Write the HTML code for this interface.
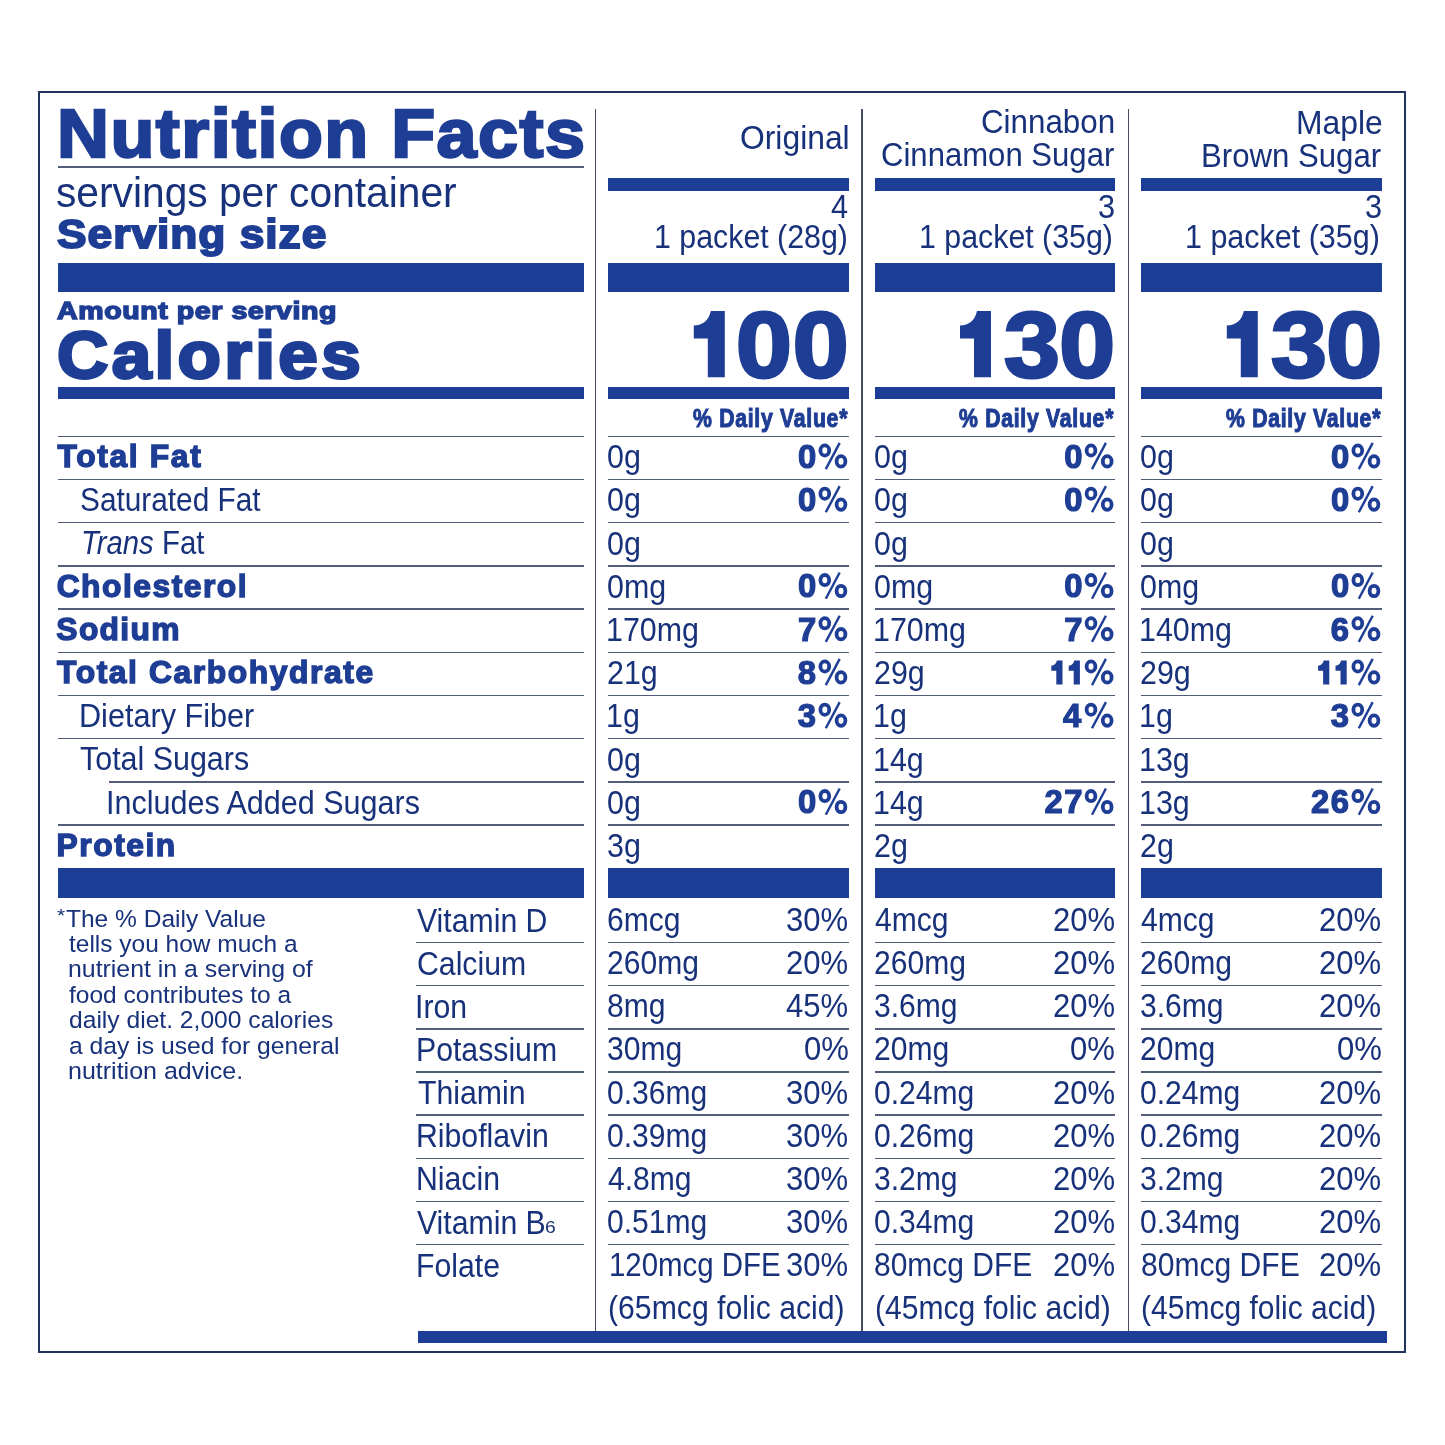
<!DOCTYPE html>
<html><head><meta charset="utf-8"><style>
html,body{margin:0;padding:0;background:#fff;width:1445px;height:1445px;overflow:hidden}
#w{position:relative;width:1445px;height:1445px;will-change:transform}
#w div,#w span,#w svg{position:absolute}
#w span{font-family:"Liberation Sans",sans-serif;line-height:1;white-space:pre;transform-origin:0 0}
</style></head><body><div id="w">
<div style="left:38px;top:91px;width:1368px;height:1262px;border:2px solid #22345e;box-sizing:border-box"></div>
<div style="left:594.90px;top:109.40px;width:1.40px;height:1222.10px;background:#474d62"></div>
<div style="left:861.30px;top:109.40px;width:1.40px;height:1222.10px;background:#474d62"></div>
<div style="left:1127.90px;top:109.40px;width:1.40px;height:1222.10px;background:#474d62"></div>
<div style="left:58.00px;top:166.05px;width:526.00px;height:1.50px;background:#525d7a"></div>
<div style="left:58.00px;top:262.80px;width:526.00px;height:29.00px;background:#1d3e96"></div>
<div style="left:58.00px;top:386.90px;width:526.00px;height:12.50px;background:#1d3e96"></div>
<div style="left:58.00px;top:435.55px;width:526.00px;height:1.50px;background:#525d7a"></div>
<div style="left:58.00px;top:478.75px;width:526.00px;height:1.50px;background:#525d7a"></div>
<div style="left:58.00px;top:521.95px;width:526.00px;height:1.50px;background:#525d7a"></div>
<div style="left:58.00px;top:565.15px;width:526.00px;height:1.50px;background:#525d7a"></div>
<div style="left:58.00px;top:608.35px;width:526.00px;height:1.50px;background:#525d7a"></div>
<div style="left:58.00px;top:651.55px;width:526.00px;height:1.50px;background:#525d7a"></div>
<div style="left:58.00px;top:694.75px;width:526.00px;height:1.50px;background:#525d7a"></div>
<div style="left:58.00px;top:737.95px;width:526.00px;height:1.50px;background:#525d7a"></div>
<div style="left:109.20px;top:781.15px;width:474.80px;height:1.50px;background:#525d7a"></div>
<div style="left:58.00px;top:824.35px;width:526.00px;height:1.50px;background:#525d7a"></div>
<div style="left:58.00px;top:868.40px;width:526.00px;height:29.30px;background:#1d3e96"></div>
<div style="left:416.10px;top:941.75px;width:167.90px;height:1.50px;background:#525d7a"></div>
<div style="left:416.10px;top:984.92px;width:167.90px;height:1.50px;background:#525d7a"></div>
<div style="left:416.10px;top:1028.09px;width:167.90px;height:1.50px;background:#525d7a"></div>
<div style="left:416.10px;top:1071.26px;width:167.90px;height:1.50px;background:#525d7a"></div>
<div style="left:416.10px;top:1114.43px;width:167.90px;height:1.50px;background:#525d7a"></div>
<div style="left:416.10px;top:1157.60px;width:167.90px;height:1.50px;background:#525d7a"></div>
<div style="left:416.10px;top:1200.77px;width:167.90px;height:1.50px;background:#525d7a"></div>
<div style="left:416.10px;top:1243.94px;width:167.90px;height:1.50px;background:#525d7a"></div>
<div style="left:418.10px;top:1331.40px;width:968.60px;height:12.10px;background:#1d3e96"></div>
<div style="left:608.20px;top:178.20px;width:240.60px;height:12.40px;background:#1d3e96"></div>
<div style="left:608.20px;top:262.80px;width:240.60px;height:29.00px;background:#1d3e96"></div>
<div style="left:608.20px;top:386.90px;width:240.60px;height:12.50px;background:#1d3e96"></div>
<div style="left:608.20px;top:435.55px;width:240.60px;height:1.50px;background:#525d7a"></div>
<div style="left:608.20px;top:478.75px;width:240.60px;height:1.50px;background:#525d7a"></div>
<div style="left:608.20px;top:521.95px;width:240.60px;height:1.50px;background:#525d7a"></div>
<div style="left:608.20px;top:565.15px;width:240.60px;height:1.50px;background:#525d7a"></div>
<div style="left:608.20px;top:608.35px;width:240.60px;height:1.50px;background:#525d7a"></div>
<div style="left:608.20px;top:651.55px;width:240.60px;height:1.50px;background:#525d7a"></div>
<div style="left:608.20px;top:694.75px;width:240.60px;height:1.50px;background:#525d7a"></div>
<div style="left:608.20px;top:737.95px;width:240.60px;height:1.50px;background:#525d7a"></div>
<div style="left:608.20px;top:781.15px;width:240.60px;height:1.50px;background:#525d7a"></div>
<div style="left:608.20px;top:824.35px;width:240.60px;height:1.50px;background:#525d7a"></div>
<div style="left:608.20px;top:868.40px;width:240.60px;height:29.30px;background:#1d3e96"></div>
<div style="left:608.20px;top:941.75px;width:240.60px;height:1.50px;background:#525d7a"></div>
<div style="left:608.20px;top:984.92px;width:240.60px;height:1.50px;background:#525d7a"></div>
<div style="left:608.20px;top:1028.09px;width:240.60px;height:1.50px;background:#525d7a"></div>
<div style="left:608.20px;top:1071.26px;width:240.60px;height:1.50px;background:#525d7a"></div>
<div style="left:608.20px;top:1114.43px;width:240.60px;height:1.50px;background:#525d7a"></div>
<div style="left:608.20px;top:1157.60px;width:240.60px;height:1.50px;background:#525d7a"></div>
<div style="left:608.20px;top:1200.77px;width:240.60px;height:1.50px;background:#525d7a"></div>
<div style="left:608.20px;top:1243.94px;width:240.60px;height:1.50px;background:#525d7a"></div>
<div style="left:874.80px;top:178.20px;width:240.20px;height:12.40px;background:#1d3e96"></div>
<div style="left:874.80px;top:262.80px;width:240.20px;height:29.00px;background:#1d3e96"></div>
<div style="left:874.80px;top:386.90px;width:240.20px;height:12.50px;background:#1d3e96"></div>
<div style="left:874.80px;top:435.55px;width:240.20px;height:1.50px;background:#525d7a"></div>
<div style="left:874.80px;top:478.75px;width:240.20px;height:1.50px;background:#525d7a"></div>
<div style="left:874.80px;top:521.95px;width:240.20px;height:1.50px;background:#525d7a"></div>
<div style="left:874.80px;top:565.15px;width:240.20px;height:1.50px;background:#525d7a"></div>
<div style="left:874.80px;top:608.35px;width:240.20px;height:1.50px;background:#525d7a"></div>
<div style="left:874.80px;top:651.55px;width:240.20px;height:1.50px;background:#525d7a"></div>
<div style="left:874.80px;top:694.75px;width:240.20px;height:1.50px;background:#525d7a"></div>
<div style="left:874.80px;top:737.95px;width:240.20px;height:1.50px;background:#525d7a"></div>
<div style="left:874.80px;top:781.15px;width:240.20px;height:1.50px;background:#525d7a"></div>
<div style="left:874.80px;top:824.35px;width:240.20px;height:1.50px;background:#525d7a"></div>
<div style="left:874.80px;top:868.40px;width:240.20px;height:29.30px;background:#1d3e96"></div>
<div style="left:874.80px;top:941.75px;width:240.20px;height:1.50px;background:#525d7a"></div>
<div style="left:874.80px;top:984.92px;width:240.20px;height:1.50px;background:#525d7a"></div>
<div style="left:874.80px;top:1028.09px;width:240.20px;height:1.50px;background:#525d7a"></div>
<div style="left:874.80px;top:1071.26px;width:240.20px;height:1.50px;background:#525d7a"></div>
<div style="left:874.80px;top:1114.43px;width:240.20px;height:1.50px;background:#525d7a"></div>
<div style="left:874.80px;top:1157.60px;width:240.20px;height:1.50px;background:#525d7a"></div>
<div style="left:874.80px;top:1200.77px;width:240.20px;height:1.50px;background:#525d7a"></div>
<div style="left:874.80px;top:1243.94px;width:240.20px;height:1.50px;background:#525d7a"></div>
<div style="left:1141.00px;top:178.20px;width:240.80px;height:12.40px;background:#1d3e96"></div>
<div style="left:1141.00px;top:262.80px;width:240.80px;height:29.00px;background:#1d3e96"></div>
<div style="left:1141.00px;top:386.90px;width:240.80px;height:12.50px;background:#1d3e96"></div>
<div style="left:1141.00px;top:435.55px;width:240.80px;height:1.50px;background:#525d7a"></div>
<div style="left:1141.00px;top:478.75px;width:240.80px;height:1.50px;background:#525d7a"></div>
<div style="left:1141.00px;top:521.95px;width:240.80px;height:1.50px;background:#525d7a"></div>
<div style="left:1141.00px;top:565.15px;width:240.80px;height:1.50px;background:#525d7a"></div>
<div style="left:1141.00px;top:608.35px;width:240.80px;height:1.50px;background:#525d7a"></div>
<div style="left:1141.00px;top:651.55px;width:240.80px;height:1.50px;background:#525d7a"></div>
<div style="left:1141.00px;top:694.75px;width:240.80px;height:1.50px;background:#525d7a"></div>
<div style="left:1141.00px;top:737.95px;width:240.80px;height:1.50px;background:#525d7a"></div>
<div style="left:1141.00px;top:781.15px;width:240.80px;height:1.50px;background:#525d7a"></div>
<div style="left:1141.00px;top:824.35px;width:240.80px;height:1.50px;background:#525d7a"></div>
<div style="left:1141.00px;top:868.40px;width:240.80px;height:29.30px;background:#1d3e96"></div>
<div style="left:1141.00px;top:941.75px;width:240.80px;height:1.50px;background:#525d7a"></div>
<div style="left:1141.00px;top:984.92px;width:240.80px;height:1.50px;background:#525d7a"></div>
<div style="left:1141.00px;top:1028.09px;width:240.80px;height:1.50px;background:#525d7a"></div>
<div style="left:1141.00px;top:1071.26px;width:240.80px;height:1.50px;background:#525d7a"></div>
<div style="left:1141.00px;top:1114.43px;width:240.80px;height:1.50px;background:#525d7a"></div>
<div style="left:1141.00px;top:1157.60px;width:240.80px;height:1.50px;background:#525d7a"></div>
<div style="left:1141.00px;top:1200.77px;width:240.80px;height:1.50px;background:#525d7a"></div>
<div style="left:1141.00px;top:1243.94px;width:240.80px;height:1.50px;background:#525d7a"></div>
<span style="left:56.98px;top:99.70px;font-size:68.50px;font-weight:bold;font-style:normal;color:#1e3d94;-webkit-text-stroke:2.40px #1e3d94;letter-spacing:1.388px;transform:scaleX(1.0500);">Nutrition Facts</span>
<span style="left:56.38px;top:171.74px;font-size:42.00px;font-weight:normal;font-style:normal;color:#17317a;transform:scaleX(0.9696);">servings per container</span>
<span style="left:57.30px;top:213.99px;font-size:41.00px;font-weight:bold;font-style:normal;color:#1e3d94;-webkit-text-stroke:1.90px #1e3d94;letter-spacing:0.922px;transform:scaleX(1.0800);">Serving size</span>
<span style="left:57.24px;top:300.09px;font-size:23.40px;font-weight:bold;font-style:normal;color:#1e3d94;-webkit-text-stroke:1.40px #1e3d94;letter-spacing:0.474px;transform:scaleX(1.2200);">Amount per serving</span>
<span style="left:56.55px;top:321.37px;font-size:67.00px;font-weight:bold;font-style:normal;color:#1e3d94;-webkit-text-stroke:3.00px #1e3d94;letter-spacing:3.157px;transform:scaleX(1.0600);">Calories</span>
<span style="left:57.58px;top:441.37px;font-size:31.80px;font-weight:bold;font-style:normal;color:#1e3d94;-webkit-text-stroke:1.40px #1e3d94;letter-spacing:1.634px;">Total Fat</span>
<span style="left:80.16px;top:483.22px;font-size:33.40px;font-weight:normal;font-style:normal;color:#17317a;transform:scaleX(0.8925);">Saturated Fat</span>
<span style="left:80.57px;top:526.42px;font-size:33.40px;font-weight:normal;font-style:italic;color:#17317a;transform:scaleX(0.8755);">Trans</span>
<span style="left:162.25px;top:526.42px;font-size:33.40px;font-weight:normal;font-style:normal;color:#17317a;transform:scaleX(0.8794);">Fat</span>
<span style="left:56.63px;top:570.97px;font-size:31.80px;font-weight:bold;font-style:normal;color:#1e3d94;-webkit-text-stroke:1.40px #1e3d94;letter-spacing:1.504px;">Cholesterol</span>
<span style="left:56.35px;top:614.17px;font-size:31.80px;font-weight:bold;font-style:normal;color:#1e3d94;-webkit-text-stroke:1.40px #1e3d94;letter-spacing:1.323px;">Sodium</span>
<span style="left:56.98px;top:657.37px;font-size:31.80px;font-weight:bold;font-style:normal;color:#1e3d94;-webkit-text-stroke:1.40px #1e3d94;letter-spacing:1.595px;">Total Carbohydrate</span>
<span style="left:79.15px;top:699.22px;font-size:33.40px;font-weight:normal;font-style:normal;color:#17317a;transform:scaleX(0.9166);">Dietary Fiber</span>
<span style="left:80.39px;top:742.42px;font-size:33.40px;font-weight:normal;font-style:normal;color:#17317a;transform:scaleX(0.9110);">Total Sugars</span>
<span style="left:106.45px;top:785.62px;font-size:33.40px;font-weight:normal;font-style:normal;color:#17317a;transform:scaleX(0.9141);">Includes Added Sugars</span>
<span style="left:56.53px;top:830.17px;font-size:31.80px;font-weight:bold;font-style:normal;color:#1e3d94;-webkit-text-stroke:1.40px #1e3d94;letter-spacing:1.537px;">Protein</span>
<span style="left:65.71px;top:906.63px;font-size:24.30px;font-weight:normal;font-style:normal;color:#17317a;transform:scaleX(1.0093);">The % Daily Value</span>
<span style="left:69.33px;top:932.03px;font-size:24.30px;font-weight:normal;font-style:normal;color:#17317a;transform:scaleX(1.0072);">tells you how much a</span>
<span style="left:68.08px;top:957.43px;font-size:24.30px;font-weight:normal;font-style:normal;color:#17317a;transform:scaleX(1.0234);">nutrient in a serving of</span>
<span style="left:69.33px;top:982.83px;font-size:24.30px;font-weight:normal;font-style:normal;color:#17317a;transform:scaleX(1.0087);">food contributes to a</span>
<span style="left:68.71px;top:1008.23px;font-size:24.30px;font-weight:normal;font-style:normal;color:#17317a;transform:scaleX(1.0135);">daily diet. 2,000 calories</span>
<span style="left:68.71px;top:1033.63px;font-size:24.30px;font-weight:normal;font-style:normal;color:#17317a;transform:scaleX(1.0162);">a day is used for general</span>
<span style="left:68.07px;top:1059.03px;font-size:24.30px;font-weight:normal;font-style:normal;color:#17317a;transform:scaleX(1.0293);">nutrition advice.</span>
<span style="left:56.69px;top:906.41px;font-size:19.00px;font-weight:normal;font-style:normal;color:#17317a;transform:scaleX(1.0965);">*</span>
<span style="left:417.45px;top:903.52px;font-size:33.40px;font-weight:normal;font-style:normal;color:#17317a;transform:scaleX(0.9050);">Vitamin D</span>
<span style="left:416.59px;top:946.52px;font-size:33.40px;font-weight:normal;font-style:normal;color:#17317a;transform:scaleX(0.9050);">Calcium</span>
<span style="left:415.38px;top:989.69px;font-size:33.40px;font-weight:normal;font-style:normal;color:#17317a;transform:scaleX(0.9050);">Iron</span>
<span style="left:415.68px;top:1032.86px;font-size:33.40px;font-weight:normal;font-style:normal;color:#17317a;transform:scaleX(0.9050);">Potassium</span>
<span style="left:417.50px;top:1076.03px;font-size:33.40px;font-weight:normal;font-style:normal;color:#17317a;transform:scaleX(0.9050);">Thiamin</span>
<span style="left:415.68px;top:1119.20px;font-size:33.40px;font-weight:normal;font-style:normal;color:#17317a;transform:scaleX(0.9050);">Riboflavin</span>
<span style="left:415.68px;top:1162.37px;font-size:33.40px;font-weight:normal;font-style:normal;color:#17317a;transform:scaleX(0.9050);">Niacin</span>
<span style="left:417.45px;top:1205.54px;font-size:33.40px;font-weight:normal;font-style:normal;color:#17317a;transform:scaleX(0.9050);">Vitamin B</span>
<span style="left:415.68px;top:1248.71px;font-size:33.40px;font-weight:normal;font-style:normal;color:#17317a;transform:scaleX(0.9050);">Folate</span>
<span style="left:545.23px;top:1218.93px;font-size:17.00px;font-weight:normal;font-style:normal;color:#17317a;transform:scaleX(1.1385);">6</span>
<span style="left:739.77px;top:120.62px;font-size:33.40px;font-weight:normal;font-style:normal;color:#17317a;transform:scaleX(0.9534);">Original</span>
<span style="left:831.29px;top:190.36px;font-size:33.00px;font-weight:normal;font-style:normal;color:#17317a;transform:scaleX(0.9300);">4</span>
<span style="left:653.52px;top:220.12px;font-size:33.40px;font-weight:normal;font-style:normal;color:#17317a;transform:scaleX(0.9085);">1 packet (28g)</span>
<span style="left:736.40px;top:299.46px;font-size:93.00px;font-weight:bold;font-style:normal;color:#1e3d94;-webkit-text-stroke:3.00px #1e3d94;letter-spacing:0.747px;transform:scaleX(1.0800);">00</span>
<span style="left:692.61px;top:405.16px;font-size:26.50px;font-weight:bold;font-style:normal;color:#1e3d94;-webkit-text-stroke:1.10px #1e3d94;letter-spacing:0.908px;transform:scaleX(0.8000);">% Daily Value*</span>
<span style="left:607.38px;top:440.22px;font-size:33.40px;font-weight:normal;font-style:normal;color:#17317a;transform:scaleX(0.9100);">0g</span>
<span style="left:798.01px;top:440.73px;font-size:32.80px;font-weight:bold;font-style:normal;color:#1e3d94;-webkit-text-stroke:1.20px #1e3d94;">0</span>
<span style="left:607.38px;top:483.42px;font-size:33.40px;font-weight:normal;font-style:normal;color:#17317a;transform:scaleX(0.9100);">0g</span>
<span style="left:798.01px;top:483.93px;font-size:32.80px;font-weight:bold;font-style:normal;color:#1e3d94;-webkit-text-stroke:1.20px #1e3d94;">0</span>
<span style="left:607.38px;top:526.62px;font-size:33.40px;font-weight:normal;font-style:normal;color:#17317a;transform:scaleX(0.9100);">0g</span>
<span style="left:607.38px;top:569.82px;font-size:33.40px;font-weight:normal;font-style:normal;color:#17317a;transform:scaleX(0.9100);">0mg</span>
<span style="left:798.01px;top:570.33px;font-size:32.80px;font-weight:bold;font-style:normal;color:#1e3d94;-webkit-text-stroke:1.20px #1e3d94;">0</span>
<span style="left:606.32px;top:613.02px;font-size:33.40px;font-weight:normal;font-style:normal;color:#17317a;transform:scaleX(0.9100);">170mg</span>
<span style="left:798.01px;top:613.53px;font-size:32.80px;font-weight:bold;font-style:normal;color:#1e3d94;-webkit-text-stroke:1.20px #1e3d94;">7</span>
<span style="left:607.08px;top:656.22px;font-size:33.40px;font-weight:normal;font-style:normal;color:#17317a;transform:scaleX(0.9100);">21g</span>
<span style="left:797.68px;top:656.73px;font-size:32.80px;font-weight:bold;font-style:normal;color:#1e3d94;-webkit-text-stroke:1.20px #1e3d94;">8</span>
<span style="left:606.32px;top:699.42px;font-size:33.40px;font-weight:normal;font-style:normal;color:#17317a;transform:scaleX(0.9100);">1g</span>
<span style="left:797.84px;top:699.93px;font-size:32.80px;font-weight:bold;font-style:normal;color:#1e3d94;-webkit-text-stroke:1.20px #1e3d94;">3</span>
<span style="left:607.38px;top:742.62px;font-size:33.40px;font-weight:normal;font-style:normal;color:#17317a;transform:scaleX(0.9100);">0g</span>
<span style="left:607.38px;top:785.82px;font-size:33.40px;font-weight:normal;font-style:normal;color:#17317a;transform:scaleX(0.9100);">0g</span>
<span style="left:798.01px;top:786.33px;font-size:32.80px;font-weight:bold;font-style:normal;color:#1e3d94;-webkit-text-stroke:1.20px #1e3d94;">0</span>
<span style="left:607.38px;top:829.02px;font-size:33.40px;font-weight:normal;font-style:normal;color:#17317a;transform:scaleX(0.9100);">3g</span>
<span style="left:607.10px;top:903.02px;font-size:33.40px;font-weight:normal;font-style:normal;color:#17317a;transform:scaleX(0.9000);">6mcg</span>
<span style="left:786.36px;top:903.02px;font-size:33.40px;font-weight:normal;font-style:normal;color:#17317a;transform:scaleX(0.9300);">30%</span>
<span style="left:607.10px;top:946.02px;font-size:33.40px;font-weight:normal;font-style:normal;color:#17317a;transform:scaleX(0.9000);">260mg</span>
<span style="left:786.36px;top:946.02px;font-size:33.40px;font-weight:normal;font-style:normal;color:#17317a;transform:scaleX(0.9300);">20%</span>
<span style="left:607.25px;top:989.19px;font-size:33.40px;font-weight:normal;font-style:normal;color:#17317a;transform:scaleX(0.9000);">8mg</span>
<span style="left:786.36px;top:989.19px;font-size:33.40px;font-weight:normal;font-style:normal;color:#17317a;transform:scaleX(0.9300);">45%</span>
<span style="left:607.40px;top:1032.36px;font-size:33.40px;font-weight:normal;font-style:normal;color:#17317a;transform:scaleX(0.9000);">30mg</span>
<span style="left:803.60px;top:1032.36px;font-size:33.40px;font-weight:normal;font-style:normal;color:#17317a;transform:scaleX(0.9300);">0%</span>
<span style="left:607.40px;top:1075.53px;font-size:33.40px;font-weight:normal;font-style:normal;color:#17317a;transform:scaleX(0.9000);">0.36mg</span>
<span style="left:786.36px;top:1075.53px;font-size:33.40px;font-weight:normal;font-style:normal;color:#17317a;transform:scaleX(0.9300);">30%</span>
<span style="left:607.40px;top:1118.70px;font-size:33.40px;font-weight:normal;font-style:normal;color:#17317a;transform:scaleX(0.9000);">0.39mg</span>
<span style="left:786.36px;top:1118.70px;font-size:33.40px;font-weight:normal;font-style:normal;color:#17317a;transform:scaleX(0.9300);">30%</span>
<span style="left:608.00px;top:1161.87px;font-size:33.40px;font-weight:normal;font-style:normal;color:#17317a;transform:scaleX(0.9000);">4.8mg</span>
<span style="left:786.36px;top:1161.87px;font-size:33.40px;font-weight:normal;font-style:normal;color:#17317a;transform:scaleX(0.9300);">30%</span>
<span style="left:607.40px;top:1205.04px;font-size:33.40px;font-weight:normal;font-style:normal;color:#17317a;transform:scaleX(0.9000);">0.51mg</span>
<span style="left:786.36px;top:1205.04px;font-size:33.40px;font-weight:normal;font-style:normal;color:#17317a;transform:scaleX(0.9300);">30%</span>
<span style="left:609.49px;top:1248.21px;font-size:33.40px;font-weight:normal;font-style:normal;color:#17317a;transform:scaleX(0.8804);">120mcg DFE</span>
<span style="left:786.36px;top:1248.21px;font-size:33.40px;font-weight:normal;font-style:normal;color:#17317a;transform:scaleX(0.9300);">30%</span>
<span style="left:608.09px;top:1290.82px;font-size:33.40px;font-weight:normal;font-style:normal;color:#17317a;transform:scaleX(0.9042);">(65mcg folic acid)</span>
<span style="left:981.23px;top:105.02px;font-size:33.40px;font-weight:normal;font-style:normal;color:#17317a;transform:scaleX(0.9381);">Cinnabon</span>
<span style="left:881.45px;top:138.32px;font-size:33.40px;font-weight:normal;font-style:normal;color:#17317a;transform:scaleX(0.9310);">Cinnamon Sugar</span>
<span style="left:1097.79px;top:190.36px;font-size:33.00px;font-weight:normal;font-style:normal;color:#17317a;transform:scaleX(0.9300);">3</span>
<span style="left:919.42px;top:220.12px;font-size:33.40px;font-weight:normal;font-style:normal;color:#17317a;transform:scaleX(0.9085);">1 packet (35g)</span>
<span style="left:1004.11px;top:299.46px;font-size:93.00px;font-weight:bold;font-style:normal;color:#1e3d94;-webkit-text-stroke:3.00px #1e3d94;letter-spacing:-0.648px;transform:scaleX(1.0800);">30</span>
<span style="left:958.81px;top:405.16px;font-size:26.50px;font-weight:bold;font-style:normal;color:#1e3d94;-webkit-text-stroke:1.10px #1e3d94;letter-spacing:0.908px;transform:scaleX(0.8000);">% Daily Value*</span>
<span style="left:873.98px;top:440.22px;font-size:33.40px;font-weight:normal;font-style:normal;color:#17317a;transform:scaleX(0.9100);">0g</span>
<span style="left:1064.21px;top:440.73px;font-size:32.80px;font-weight:bold;font-style:normal;color:#1e3d94;-webkit-text-stroke:1.20px #1e3d94;">0</span>
<span style="left:873.98px;top:483.42px;font-size:33.40px;font-weight:normal;font-style:normal;color:#17317a;transform:scaleX(0.9100);">0g</span>
<span style="left:1064.21px;top:483.93px;font-size:32.80px;font-weight:bold;font-style:normal;color:#1e3d94;-webkit-text-stroke:1.20px #1e3d94;">0</span>
<span style="left:873.98px;top:526.62px;font-size:33.40px;font-weight:normal;font-style:normal;color:#17317a;transform:scaleX(0.9100);">0g</span>
<span style="left:873.98px;top:569.82px;font-size:33.40px;font-weight:normal;font-style:normal;color:#17317a;transform:scaleX(0.9100);">0mg</span>
<span style="left:1064.21px;top:570.33px;font-size:32.80px;font-weight:bold;font-style:normal;color:#1e3d94;-webkit-text-stroke:1.20px #1e3d94;">0</span>
<span style="left:872.92px;top:613.02px;font-size:33.40px;font-weight:normal;font-style:normal;color:#17317a;transform:scaleX(0.9100);">170mg</span>
<span style="left:1064.21px;top:613.53px;font-size:32.80px;font-weight:bold;font-style:normal;color:#1e3d94;-webkit-text-stroke:1.20px #1e3d94;">7</span>
<span style="left:873.68px;top:656.22px;font-size:33.40px;font-weight:normal;font-style:normal;color:#17317a;transform:scaleX(0.9100);">29g</span>
<span style="left:872.92px;top:699.42px;font-size:33.40px;font-weight:normal;font-style:normal;color:#17317a;transform:scaleX(0.9100);">1g</span>
<span style="left:1063.06px;top:699.93px;font-size:32.80px;font-weight:bold;font-style:normal;color:#1e3d94;-webkit-text-stroke:1.20px #1e3d94;">4</span>
<span style="left:872.92px;top:742.62px;font-size:33.40px;font-weight:normal;font-style:normal;color:#17317a;transform:scaleX(0.9100);">14g</span>
<span style="left:872.92px;top:785.82px;font-size:33.40px;font-weight:normal;font-style:normal;color:#17317a;transform:scaleX(0.9100);">14g</span>
<span style="left:1064.21px;top:786.33px;font-size:32.80px;font-weight:bold;font-style:normal;color:#1e3d94;-webkit-text-stroke:1.20px #1e3d94;">7</span>
<span style="left:1044.43px;top:786.33px;font-size:32.80px;font-weight:bold;font-style:normal;color:#1e3d94;-webkit-text-stroke:1.20px #1e3d94;">2</span>
<span style="left:873.68px;top:829.02px;font-size:33.40px;font-weight:normal;font-style:normal;color:#17317a;transform:scaleX(0.9100);">2g</span>
<span style="left:874.60px;top:903.02px;font-size:33.40px;font-weight:normal;font-style:normal;color:#17317a;transform:scaleX(0.9000);">4mcg</span>
<span style="left:1052.56px;top:903.02px;font-size:33.40px;font-weight:normal;font-style:normal;color:#17317a;transform:scaleX(0.9300);">20%</span>
<span style="left:873.70px;top:946.02px;font-size:33.40px;font-weight:normal;font-style:normal;color:#17317a;transform:scaleX(0.9000);">260mg</span>
<span style="left:1052.56px;top:946.02px;font-size:33.40px;font-weight:normal;font-style:normal;color:#17317a;transform:scaleX(0.9300);">20%</span>
<span style="left:874.00px;top:989.19px;font-size:33.40px;font-weight:normal;font-style:normal;color:#17317a;transform:scaleX(0.9000);">3.6mg</span>
<span style="left:1052.56px;top:989.19px;font-size:33.40px;font-weight:normal;font-style:normal;color:#17317a;transform:scaleX(0.9300);">20%</span>
<span style="left:873.70px;top:1032.36px;font-size:33.40px;font-weight:normal;font-style:normal;color:#17317a;transform:scaleX(0.9000);">20mg</span>
<span style="left:1069.80px;top:1032.36px;font-size:33.40px;font-weight:normal;font-style:normal;color:#17317a;transform:scaleX(0.9300);">0%</span>
<span style="left:874.00px;top:1075.53px;font-size:33.40px;font-weight:normal;font-style:normal;color:#17317a;transform:scaleX(0.9000);">0.24mg</span>
<span style="left:1052.56px;top:1075.53px;font-size:33.40px;font-weight:normal;font-style:normal;color:#17317a;transform:scaleX(0.9300);">20%</span>
<span style="left:874.00px;top:1118.70px;font-size:33.40px;font-weight:normal;font-style:normal;color:#17317a;transform:scaleX(0.9000);">0.26mg</span>
<span style="left:1052.56px;top:1118.70px;font-size:33.40px;font-weight:normal;font-style:normal;color:#17317a;transform:scaleX(0.9300);">20%</span>
<span style="left:874.00px;top:1161.87px;font-size:33.40px;font-weight:normal;font-style:normal;color:#17317a;transform:scaleX(0.9000);">3.2mg</span>
<span style="left:1052.56px;top:1161.87px;font-size:33.40px;font-weight:normal;font-style:normal;color:#17317a;transform:scaleX(0.9300);">20%</span>
<span style="left:874.00px;top:1205.04px;font-size:33.40px;font-weight:normal;font-style:normal;color:#17317a;transform:scaleX(0.9000);">0.34mg</span>
<span style="left:1052.56px;top:1205.04px;font-size:33.40px;font-weight:normal;font-style:normal;color:#17317a;transform:scaleX(0.9300);">20%</span>
<span style="left:874.45px;top:1248.21px;font-size:33.40px;font-weight:normal;font-style:normal;color:#17317a;transform:scaleX(0.8976);">80mcg DFE</span>
<span style="left:1052.56px;top:1248.21px;font-size:33.40px;font-weight:normal;font-style:normal;color:#17317a;transform:scaleX(0.9300);">20%</span>
<span style="left:874.89px;top:1290.82px;font-size:33.40px;font-weight:normal;font-style:normal;color:#17317a;transform:scaleX(0.9007);">(45mcg folic acid)</span>
<span style="left:1295.75px;top:105.52px;font-size:33.40px;font-weight:normal;font-style:normal;color:#17317a;transform:scaleX(0.9535);">Maple</span>
<span style="left:1201.41px;top:139.22px;font-size:33.40px;font-weight:normal;font-style:normal;color:#17317a;transform:scaleX(0.9332);">Brown Sugar</span>
<span style="left:1364.59px;top:190.36px;font-size:33.00px;font-weight:normal;font-style:normal;color:#17317a;transform:scaleX(0.9300);">3</span>
<span style="left:1185.41px;top:220.12px;font-size:33.40px;font-weight:normal;font-style:normal;color:#17317a;transform:scaleX(0.9128);">1 packet (35g)</span>
<span style="left:1270.91px;top:299.46px;font-size:93.00px;font-weight:bold;font-style:normal;color:#1e3d94;-webkit-text-stroke:3.00px #1e3d94;letter-spacing:-0.648px;transform:scaleX(1.0800);">30</span>
<span style="left:1225.61px;top:405.16px;font-size:26.50px;font-weight:bold;font-style:normal;color:#1e3d94;-webkit-text-stroke:1.10px #1e3d94;letter-spacing:0.908px;transform:scaleX(0.8000);">% Daily Value*</span>
<span style="left:1140.18px;top:440.22px;font-size:33.40px;font-weight:normal;font-style:normal;color:#17317a;transform:scaleX(0.9100);">0g</span>
<span style="left:1331.01px;top:440.73px;font-size:32.80px;font-weight:bold;font-style:normal;color:#1e3d94;-webkit-text-stroke:1.20px #1e3d94;">0</span>
<span style="left:1140.18px;top:483.42px;font-size:33.40px;font-weight:normal;font-style:normal;color:#17317a;transform:scaleX(0.9100);">0g</span>
<span style="left:1331.01px;top:483.93px;font-size:32.80px;font-weight:bold;font-style:normal;color:#1e3d94;-webkit-text-stroke:1.20px #1e3d94;">0</span>
<span style="left:1140.18px;top:526.62px;font-size:33.40px;font-weight:normal;font-style:normal;color:#17317a;transform:scaleX(0.9100);">0g</span>
<span style="left:1140.18px;top:569.82px;font-size:33.40px;font-weight:normal;font-style:normal;color:#17317a;transform:scaleX(0.9100);">0mg</span>
<span style="left:1331.01px;top:570.33px;font-size:32.80px;font-weight:bold;font-style:normal;color:#1e3d94;-webkit-text-stroke:1.20px #1e3d94;">0</span>
<span style="left:1139.12px;top:613.02px;font-size:33.40px;font-weight:normal;font-style:normal;color:#17317a;transform:scaleX(0.9100);">140mg</span>
<span style="left:1330.84px;top:613.53px;font-size:32.80px;font-weight:bold;font-style:normal;color:#1e3d94;-webkit-text-stroke:1.20px #1e3d94;">6</span>
<span style="left:1139.88px;top:656.22px;font-size:33.40px;font-weight:normal;font-style:normal;color:#17317a;transform:scaleX(0.9100);">29g</span>
<span style="left:1139.12px;top:699.42px;font-size:33.40px;font-weight:normal;font-style:normal;color:#17317a;transform:scaleX(0.9100);">1g</span>
<span style="left:1330.84px;top:699.93px;font-size:32.80px;font-weight:bold;font-style:normal;color:#1e3d94;-webkit-text-stroke:1.20px #1e3d94;">3</span>
<span style="left:1139.12px;top:742.62px;font-size:33.40px;font-weight:normal;font-style:normal;color:#17317a;transform:scaleX(0.9100);">13g</span>
<span style="left:1139.12px;top:785.82px;font-size:33.40px;font-weight:normal;font-style:normal;color:#17317a;transform:scaleX(0.9100);">13g</span>
<span style="left:1330.84px;top:786.33px;font-size:32.80px;font-weight:bold;font-style:normal;color:#1e3d94;-webkit-text-stroke:1.20px #1e3d94;">6</span>
<span style="left:1310.90px;top:786.33px;font-size:32.80px;font-weight:bold;font-style:normal;color:#1e3d94;-webkit-text-stroke:1.20px #1e3d94;">2</span>
<span style="left:1139.88px;top:829.02px;font-size:33.40px;font-weight:normal;font-style:normal;color:#17317a;transform:scaleX(0.9100);">2g</span>
<span style="left:1140.80px;top:903.02px;font-size:33.40px;font-weight:normal;font-style:normal;color:#17317a;transform:scaleX(0.9000);">4mcg</span>
<span style="left:1319.36px;top:903.02px;font-size:33.40px;font-weight:normal;font-style:normal;color:#17317a;transform:scaleX(0.9300);">20%</span>
<span style="left:1139.90px;top:946.02px;font-size:33.40px;font-weight:normal;font-style:normal;color:#17317a;transform:scaleX(0.9000);">260mg</span>
<span style="left:1319.36px;top:946.02px;font-size:33.40px;font-weight:normal;font-style:normal;color:#17317a;transform:scaleX(0.9300);">20%</span>
<span style="left:1140.20px;top:989.19px;font-size:33.40px;font-weight:normal;font-style:normal;color:#17317a;transform:scaleX(0.9000);">3.6mg</span>
<span style="left:1319.36px;top:989.19px;font-size:33.40px;font-weight:normal;font-style:normal;color:#17317a;transform:scaleX(0.9300);">20%</span>
<span style="left:1139.90px;top:1032.36px;font-size:33.40px;font-weight:normal;font-style:normal;color:#17317a;transform:scaleX(0.9000);">20mg</span>
<span style="left:1336.60px;top:1032.36px;font-size:33.40px;font-weight:normal;font-style:normal;color:#17317a;transform:scaleX(0.9300);">0%</span>
<span style="left:1140.20px;top:1075.53px;font-size:33.40px;font-weight:normal;font-style:normal;color:#17317a;transform:scaleX(0.9000);">0.24mg</span>
<span style="left:1319.36px;top:1075.53px;font-size:33.40px;font-weight:normal;font-style:normal;color:#17317a;transform:scaleX(0.9300);">20%</span>
<span style="left:1140.20px;top:1118.70px;font-size:33.40px;font-weight:normal;font-style:normal;color:#17317a;transform:scaleX(0.9000);">0.26mg</span>
<span style="left:1319.36px;top:1118.70px;font-size:33.40px;font-weight:normal;font-style:normal;color:#17317a;transform:scaleX(0.9300);">20%</span>
<span style="left:1140.20px;top:1161.87px;font-size:33.40px;font-weight:normal;font-style:normal;color:#17317a;transform:scaleX(0.9000);">3.2mg</span>
<span style="left:1319.36px;top:1161.87px;font-size:33.40px;font-weight:normal;font-style:normal;color:#17317a;transform:scaleX(0.9300);">20%</span>
<span style="left:1140.20px;top:1205.04px;font-size:33.40px;font-weight:normal;font-style:normal;color:#17317a;transform:scaleX(0.9000);">0.34mg</span>
<span style="left:1319.36px;top:1205.04px;font-size:33.40px;font-weight:normal;font-style:normal;color:#17317a;transform:scaleX(0.9300);">20%</span>
<span style="left:1140.85px;top:1248.21px;font-size:33.40px;font-weight:normal;font-style:normal;color:#17317a;transform:scaleX(0.9005);">80mcg DFE</span>
<span style="left:1319.36px;top:1248.21px;font-size:33.40px;font-weight:normal;font-style:normal;color:#17317a;transform:scaleX(0.9300);">20%</span>
<span style="left:1141.40px;top:1290.82px;font-size:33.40px;font-weight:normal;font-style:normal;color:#17317a;transform:scaleX(0.8988);">(45mcg folic acid)</span>
<svg style="left:0;top:0" width="1445" height="1445" viewBox="0 0 1445 1445"><path d="M693.8 325.6 C702.8 325.1 708.8 320.6 710.8 311.0 L724.8 311.0 L724.8 377.3 L707.8 377.3 L707.8 338.6 L693.8 338.6 Z" fill="#1e3d94"/><ellipse cx="824.80" cy="450.50" rx="4.4" ry="5.1" fill="none" stroke="#1e3d94" stroke-width="3.80"/><ellipse cx="841.00" cy="461.40" rx="4.4" ry="5.2" fill="none" stroke="#1e3d94" stroke-width="3.80"/><line x1="825.80" y1="469.10" x2="839.70" y2="442.90" stroke="#1e3d94" stroke-width="2.4"/><ellipse cx="824.80" cy="493.70" rx="4.4" ry="5.1" fill="none" stroke="#1e3d94" stroke-width="3.80"/><ellipse cx="841.00" cy="504.60" rx="4.4" ry="5.2" fill="none" stroke="#1e3d94" stroke-width="3.80"/><line x1="825.80" y1="512.30" x2="839.70" y2="486.10" stroke="#1e3d94" stroke-width="2.4"/><ellipse cx="824.80" cy="580.10" rx="4.4" ry="5.1" fill="none" stroke="#1e3d94" stroke-width="3.80"/><ellipse cx="841.00" cy="591.00" rx="4.4" ry="5.2" fill="none" stroke="#1e3d94" stroke-width="3.80"/><line x1="825.80" y1="598.70" x2="839.70" y2="572.50" stroke="#1e3d94" stroke-width="2.4"/><ellipse cx="824.80" cy="623.30" rx="4.4" ry="5.1" fill="none" stroke="#1e3d94" stroke-width="3.80"/><ellipse cx="841.00" cy="634.20" rx="4.4" ry="5.2" fill="none" stroke="#1e3d94" stroke-width="3.80"/><line x1="825.80" y1="641.90" x2="839.70" y2="615.70" stroke="#1e3d94" stroke-width="2.4"/><ellipse cx="824.80" cy="666.50" rx="4.4" ry="5.1" fill="none" stroke="#1e3d94" stroke-width="3.80"/><ellipse cx="841.00" cy="677.40" rx="4.4" ry="5.2" fill="none" stroke="#1e3d94" stroke-width="3.80"/><line x1="825.80" y1="685.10" x2="839.70" y2="658.90" stroke="#1e3d94" stroke-width="2.4"/><ellipse cx="824.80" cy="709.70" rx="4.4" ry="5.1" fill="none" stroke="#1e3d94" stroke-width="3.80"/><ellipse cx="841.00" cy="720.60" rx="4.4" ry="5.2" fill="none" stroke="#1e3d94" stroke-width="3.80"/><line x1="825.80" y1="728.30" x2="839.70" y2="702.10" stroke="#1e3d94" stroke-width="2.4"/><ellipse cx="824.80" cy="796.10" rx="4.4" ry="5.1" fill="none" stroke="#1e3d94" stroke-width="3.80"/><ellipse cx="841.00" cy="807.00" rx="4.4" ry="5.2" fill="none" stroke="#1e3d94" stroke-width="3.80"/><line x1="825.80" y1="814.70" x2="839.70" y2="788.50" stroke="#1e3d94" stroke-width="2.4"/><path d="M960.0 325.6 C969.0 325.1 975.0 320.6 977.0 311.0 L991.0 311.0 L991.0 377.3 L974.0 377.3 L974.0 338.6 L960.0 338.6 Z" fill="#1e3d94"/><ellipse cx="1091.00" cy="450.50" rx="4.4" ry="5.1" fill="none" stroke="#1e3d94" stroke-width="3.80"/><ellipse cx="1107.20" cy="461.40" rx="4.4" ry="5.2" fill="none" stroke="#1e3d94" stroke-width="3.80"/><line x1="1092.00" y1="469.10" x2="1105.90" y2="442.90" stroke="#1e3d94" stroke-width="2.4"/><ellipse cx="1091.00" cy="493.70" rx="4.4" ry="5.1" fill="none" stroke="#1e3d94" stroke-width="3.80"/><ellipse cx="1107.20" cy="504.60" rx="4.4" ry="5.2" fill="none" stroke="#1e3d94" stroke-width="3.80"/><line x1="1092.00" y1="512.30" x2="1105.90" y2="486.10" stroke="#1e3d94" stroke-width="2.4"/><ellipse cx="1091.00" cy="580.10" rx="4.4" ry="5.1" fill="none" stroke="#1e3d94" stroke-width="3.80"/><ellipse cx="1107.20" cy="591.00" rx="4.4" ry="5.2" fill="none" stroke="#1e3d94" stroke-width="3.80"/><line x1="1092.00" y1="598.70" x2="1105.90" y2="572.50" stroke="#1e3d94" stroke-width="2.4"/><ellipse cx="1091.00" cy="623.30" rx="4.4" ry="5.1" fill="none" stroke="#1e3d94" stroke-width="3.80"/><ellipse cx="1107.20" cy="634.20" rx="4.4" ry="5.2" fill="none" stroke="#1e3d94" stroke-width="3.80"/><line x1="1092.00" y1="641.90" x2="1105.90" y2="615.70" stroke="#1e3d94" stroke-width="2.4"/><ellipse cx="1091.00" cy="666.50" rx="4.4" ry="5.1" fill="none" stroke="#1e3d94" stroke-width="3.80"/><ellipse cx="1107.20" cy="677.40" rx="4.4" ry="5.2" fill="none" stroke="#1e3d94" stroke-width="3.80"/><line x1="1092.00" y1="685.10" x2="1105.90" y2="658.90" stroke="#1e3d94" stroke-width="2.4"/><path d="M1068.70 665.80 C1071.70 665.60 1073.40 664.00 1074.30 660.60 L1079.90 660.60 L1079.90 684.50 L1073.70 684.50 L1073.70 670.70 L1068.70 670.70 Z" fill="#1e3d94"/><path d="M1051.30 665.80 C1054.30 665.60 1056.00 664.00 1056.90 660.60 L1062.50 660.60 L1062.50 684.50 L1056.30 684.50 L1056.30 670.70 L1051.30 670.70 Z" fill="#1e3d94"/><ellipse cx="1091.00" cy="709.70" rx="4.4" ry="5.1" fill="none" stroke="#1e3d94" stroke-width="3.80"/><ellipse cx="1107.20" cy="720.60" rx="4.4" ry="5.2" fill="none" stroke="#1e3d94" stroke-width="3.80"/><line x1="1092.00" y1="728.30" x2="1105.90" y2="702.10" stroke="#1e3d94" stroke-width="2.4"/><ellipse cx="1091.00" cy="796.10" rx="4.4" ry="5.1" fill="none" stroke="#1e3d94" stroke-width="3.80"/><ellipse cx="1107.20" cy="807.00" rx="4.4" ry="5.2" fill="none" stroke="#1e3d94" stroke-width="3.80"/><line x1="1092.00" y1="814.70" x2="1105.90" y2="788.50" stroke="#1e3d94" stroke-width="2.4"/><path d="M1226.8 325.6 C1235.8 325.1 1241.8 320.6 1243.8 311.0 L1257.8 311.0 L1257.8 377.3 L1240.8 377.3 L1240.8 338.6 L1226.8 338.6 Z" fill="#1e3d94"/><ellipse cx="1357.80" cy="450.50" rx="4.4" ry="5.1" fill="none" stroke="#1e3d94" stroke-width="3.80"/><ellipse cx="1374.00" cy="461.40" rx="4.4" ry="5.2" fill="none" stroke="#1e3d94" stroke-width="3.80"/><line x1="1358.80" y1="469.10" x2="1372.70" y2="442.90" stroke="#1e3d94" stroke-width="2.4"/><ellipse cx="1357.80" cy="493.70" rx="4.4" ry="5.1" fill="none" stroke="#1e3d94" stroke-width="3.80"/><ellipse cx="1374.00" cy="504.60" rx="4.4" ry="5.2" fill="none" stroke="#1e3d94" stroke-width="3.80"/><line x1="1358.80" y1="512.30" x2="1372.70" y2="486.10" stroke="#1e3d94" stroke-width="2.4"/><ellipse cx="1357.80" cy="580.10" rx="4.4" ry="5.1" fill="none" stroke="#1e3d94" stroke-width="3.80"/><ellipse cx="1374.00" cy="591.00" rx="4.4" ry="5.2" fill="none" stroke="#1e3d94" stroke-width="3.80"/><line x1="1358.80" y1="598.70" x2="1372.70" y2="572.50" stroke="#1e3d94" stroke-width="2.4"/><ellipse cx="1357.80" cy="623.30" rx="4.4" ry="5.1" fill="none" stroke="#1e3d94" stroke-width="3.80"/><ellipse cx="1374.00" cy="634.20" rx="4.4" ry="5.2" fill="none" stroke="#1e3d94" stroke-width="3.80"/><line x1="1358.80" y1="641.90" x2="1372.70" y2="615.70" stroke="#1e3d94" stroke-width="2.4"/><ellipse cx="1357.80" cy="666.50" rx="4.4" ry="5.1" fill="none" stroke="#1e3d94" stroke-width="3.80"/><ellipse cx="1374.00" cy="677.40" rx="4.4" ry="5.2" fill="none" stroke="#1e3d94" stroke-width="3.80"/><line x1="1358.80" y1="685.10" x2="1372.70" y2="658.90" stroke="#1e3d94" stroke-width="2.4"/><path d="M1335.50 665.80 C1338.50 665.60 1340.20 664.00 1341.10 660.60 L1346.70 660.60 L1346.70 684.50 L1340.50 684.50 L1340.50 670.70 L1335.50 670.70 Z" fill="#1e3d94"/><path d="M1318.10 665.80 C1321.10 665.60 1322.80 664.00 1323.70 660.60 L1329.30 660.60 L1329.30 684.50 L1323.10 684.50 L1323.10 670.70 L1318.10 670.70 Z" fill="#1e3d94"/><ellipse cx="1357.80" cy="709.70" rx="4.4" ry="5.1" fill="none" stroke="#1e3d94" stroke-width="3.80"/><ellipse cx="1374.00" cy="720.60" rx="4.4" ry="5.2" fill="none" stroke="#1e3d94" stroke-width="3.80"/><line x1="1358.80" y1="728.30" x2="1372.70" y2="702.10" stroke="#1e3d94" stroke-width="2.4"/><ellipse cx="1357.80" cy="796.10" rx="4.4" ry="5.1" fill="none" stroke="#1e3d94" stroke-width="3.80"/><ellipse cx="1374.00" cy="807.00" rx="4.4" ry="5.2" fill="none" stroke="#1e3d94" stroke-width="3.80"/><line x1="1358.80" y1="814.70" x2="1372.70" y2="788.50" stroke="#1e3d94" stroke-width="2.4"/></svg>
</div></body></html>
